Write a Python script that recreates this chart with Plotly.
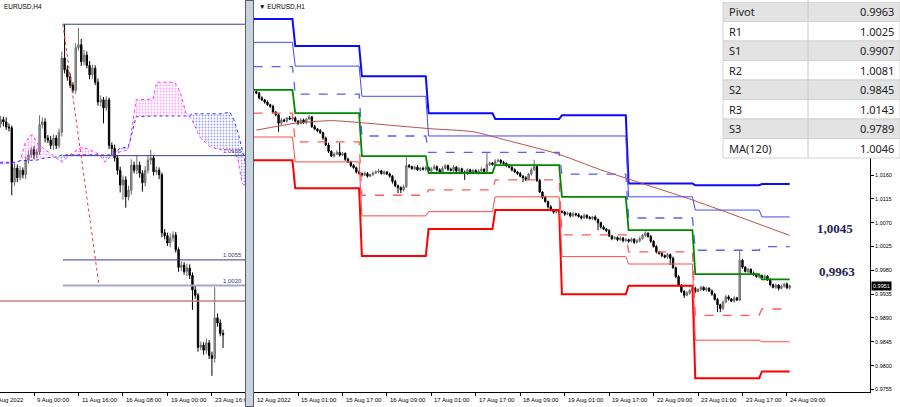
import plotly.graph_objects as go

W, H = 900, 407

# ---------------- H1 panel (right) data ----------------
h1_start_bar = -15
h1_first_open = 1.0318
h1_close = [
    1.0315, 1.0306, 1.0302, 1.0298, 1.0293, 1.0290, 1.0279, 1.0274, 1.0258, 1.0264,
    1.0262, 1.0268, 1.0266, 1.0268, 1.0262, 1.0258, 1.0264, 1.0260, 1.0266, 1.0270,
    1.0252, 1.0247, 1.0244, 1.0240, 1.0230, 1.0217, 1.0205, 1.0196, 1.0200, 1.0203,
    1.0198, 1.0201, 1.0190, 1.0185, 1.0178, 1.0174, 1.0166, 1.0163, 1.0160, 1.0163,
    1.0158, 1.0161, 1.0164, 1.0166, 1.0168, 1.0163, 1.0166, 1.0162, 1.0158, 1.0148,
    1.0140, 1.0136, 1.0132, 1.0138, 1.0178, 1.0176, 1.0172, 1.0175, 1.0170, 1.0173,
    1.0171, 1.0174, 1.0168, 1.0172, 1.0176, 1.0170, 1.0166, 1.0173, 1.0178, 1.0171,
    1.0169, 1.0175, 1.0168, 1.0172, 1.0165, 1.0163, 1.0170, 1.0166, 1.0169, 1.0164,
    1.0168, 1.0171, 1.0167, 1.0180, 1.0183, 1.0180, 1.0186, 1.0188, 1.0184, 1.0182,
    1.0178, 1.0175, 1.0170, 1.0166, 1.0163, 1.0158, 1.0155, 1.0152, 1.0162, 1.0170,
    1.0176, 1.0150, 1.0128, 1.0118, 1.0110, 1.0100, 1.0094, 1.0090, 1.0093, 1.0091,
    1.0090, 1.0086, 1.0088, 1.0083, 1.0087, 1.0085, 1.0082, 1.0079, 1.0084, 1.0080,
    1.0078, 1.0081, 1.0076, 1.0070, 1.0062, 1.0058, 1.0055, 1.0045, 1.0040, 1.0042,
    1.0038, 1.0041, 1.0036, 1.0038, 1.0035, 1.0039, 1.0033, 1.0036, 1.0040, 1.0046,
    1.0050, 1.0044, 1.0035, 1.0025, 1.0015, 1.0012, 1.0008, 1.0005, 1.0010, 1.0003,
    0.9985, 0.9968, 0.9952, 0.9940, 0.9933, 0.9937, 0.9942, 0.9946, 0.9940, 0.9944,
    0.9948, 0.9943, 0.9946, 0.9941, 0.9935, 0.9925, 0.9915, 0.9908, 0.9920, 0.9930,
    0.9926, 0.9922, 0.9928, 0.9924, 0.9999, 0.9986, 0.9978, 0.9982, 0.9975, 0.9972,
    0.9968, 0.9970, 0.9966, 0.9969, 0.9962, 0.9953, 0.9948, 0.9952, 0.9946, 0.9950,
    0.9954, 0.9947, 0.9951,
]
h1_upper_pips = [
    3, 2, 3, 2, 3, 2, 3, 2, 3, 4,
    3, 2, 4, 3, 3, 2, 4, 3, 2, 4,
    2, 3, 2, 3, 2, 3, 4, 2, 3, 4,
    18, 3, 2, 3, 2, 3, 2, 3, 2, 4,
    3, 2, 3, 3, 4, 2, 3, 2, 3, 2,
    3, 2, 3, 4, 16, 3, 2, 3, 4, 2,
    3, 4, 2, 3, 4, 2, 3, 4, 3, 2,
    3, 4, 2, 3, 2, 4, 3, 2, 3, 2,
    3, 4, 2, 24, 3, 2, 4, 3, 2, 3,
    2, 3, 2, 3, 2, 3, 2, 3, 2, 4,
    13, 2, 3, 2, 3, 2, 3, 2, 3, 2,
    3, 2, 3, 2, 4, 2, 3, 2, 3, 2,
    3, 2, 3, 2, 2, 3, 2, 3, 2, 3,
    2, 3, 2, 3, 2, 3, 2, 3, 4, 3,
    4, 2, 3, 2, 3, 2, 3, 2, 3, 2,
    3, 2, 3, 2, 3, 4, 3, 2, 3, 2,
    3, 2, 3, 2, 3, 2, 3, 2, 3, 4,
    3, 2, 3, 2, 19, 3, 2, 3, 2, 3,
    2, 3, 2, 3, 2, 3, 2, 3, 2, 3,
    2, 3, 2,
]
h1_lower_pips = [
    2, 3, 2, 3, 2, 3, 2, 3, 16, 3,
    2, 3, 2, 3, 2, 3, 2, 3, 4, 2,
    3, 2, 3, 2, 3, 2, 3, 2, 3, 2,
    3, 2, 3, 2, 3, 2, 3, 2, 3, 2,
    3, 2, 3, 2, 3, 2, 3, 2, 3, 4,
    3, 10, 6, 3, 2, 3, 2, 3, 2, 3,
    2, 3, 2, 3, 2, 3, 2, 3, 2, 3,
    2, 3, 2, 3, 2, 12, 3, 2, 3, 2,
    3, 2, 3, 2, 3, 2, 3, 2, 3, 2,
    3, 2, 3, 2, 3, 2, 8, 3, 2, 3,
    2, 3, 2, 3, 2, 3, 2, 3, 2, 3,
    2, 3, 2, 3, 2, 3, 2, 3, 2, 3,
    2, 3, 2, 14, 3, 2, 3, 2, 3, 2,
    3, 2, 3, 2, 3, 2, 3, 2, 3, 2,
    3, 2, 3, 2, 3, 2, 3, 2, 3, 13,
    2, 3, 2, 3, 5, 2, 3, 2, 3, 2,
    3, 2, 3, 2, 3, 2, 14, 7, 3, 2,
    3, 2, 3, 2, 2, 3, 2, 3, 2, 3,
    2, 3, 2, 3, 2, 3, 2, 3, 4, 2,
    3, 2, 3,
]

# daily pivot levels (one value per day)
pivot_days = ["12 Aug", "15 Aug", "16 Aug", "17 Aug", "18 Aug", "19 Aug", "22 Aug", "23 Aug", "24 Aug"]
pivot_day_first_bar = [-16, -1, 23, 47, 71, 95, 119, 143, 167]
pivot_last_bar = 177
level_R3 = [1.0455, 1.0404, 1.0347, 1.0277, 1.0266, 1.0273, 1.0144, 1.0141, 1.0143]
level_R2 = [1.0411, 1.0366, 1.0309, 1.0234, 1.0234, 1.0234, 1.0119, 1.0094, 1.0081]
level_R1 = [1.0365, 1.0313, 1.0234, 1.0203, 1.0203, 1.0162, 1.0079, 1.0018, 1.0025]
level_P = [1.0321, 1.0277, 1.0196, 1.0164, 1.0179, 1.0119, 1.0056, 0.9973, 0.9963]
level_S1 = [1.0277, 1.0223, 1.0122, 1.0132, 1.0151, 1.0047, 1.0015, 0.9895, 0.9907]
level_S2 = [1.0232, 1.0185, 1.0083, 1.0091, 1.0119, 1.0006, 0.9992, 0.9848, 0.9845]
level_S3 = [1.0188, 1.0135, 1.0007, 1.0058, 1.0094, 0.9935, 0.9951, 0.9776, 0.9789]

ma120_bar = [-15, -1, 12, 23, 47, 63, 75, 93, 109, 142, 177]
ma120_val = [1.0245, 1.0258, 1.0263, 1.0259, 1.0248, 1.0242, 1.0226, 1.0201, 1.0170, 1.0113, 1.0046]

h1_tick_bars = [0, 16, 32, 48, 64, 80, 96, 112, 128, 144, 160, 176]
h1_tick_text = ["15 Aug 01:00", "15 Aug 17:00", "16 Aug 09:00", "17 Aug 01:00", "17 Aug 17:00",
                "18 Aug 09:00", "19 Aug 01:00", "19 Aug 17:00", "22 Aug 09:00", "23 Aug 01:00",
                "23 Aug 17:00", "24 Aug 09:00"]
h1_first_label = "12 Aug 2022"
price_tick_vals = [0.9755, 0.9800, 0.9845, 0.9890, 0.9935, 0.9980, 1.0025, 1.0070, 1.0115, 1.0160]
current_price = 0.9951
note_ma_text, note_ma_value = "1,0045", 1.0045
note_pivot_text, note_pivot_value = "0,9963", 0.9963

table_labels = ["Pivot", "R1", "S1", "R2", "S2", "R3", "S3", "MA(120)"]
table_values = ["0.9963", "1.0025", "0.9907", "1.0081", "0.9845", "1.0143", "0.9789", "1.0046"]

# ---------------- H4 panel (left) data ----------------
h4_start_bar = -12
h4_first_open = 1.0240
h4_close = [
    1.0246, 1.0243, 1.0236, 1.0235, 1.0161, 1.0180, 1.0167, 1.0177, 1.0171, 1.0191,
    1.0198, 1.0205, 1.0198, 1.0202, 1.0239, 1.0243, 1.0221, 1.0218, 1.0211, 1.0221,
    1.0211, 1.0229, 1.0330, 1.0314, 1.0304, 1.0293, 1.0286, 1.0344, 1.0348, 1.0325,
    1.0334, 1.0320, 1.0307, 1.0316, 1.0297, 1.0270, 1.0273, 1.0262, 1.0273, 1.0211,
    1.0207, 1.0194, 1.0177, 1.0157, 1.0164, 1.0141, 1.0150, 1.0184, 1.0177, 1.0184,
    1.0173, 1.0160, 1.0177, 1.0191, 1.0194, 1.0175, 1.0177, 1.0171, 1.0092, 1.0088,
    1.0078, 1.0085, 1.0089, 1.0069, 1.0045, 1.0048, 1.0039, 1.0044, 1.0034, 1.0014,
    1.0007, 0.9936, 0.9939, 0.9932, 0.9942, 0.9925, 0.9921, 0.9976, 0.9969, 0.9955,
    0.9953,
]
h4_upper_pips = [
    5, 4, 6, 5, 3, 6, 5, 6, 4, 5,
    6, 4, 5, 4, 13, 6, 5, 4, 6, 5,
    4, 5, 9, 46, 6, 5, 4, 6, 23, 8,
    7, 5, 6, 5, 4, 5, 6, 4, 5, 3,
    4, 5, 4, 5, 6, 5, 6, 8, 5, 14,
    5, 4, 6, 7, 11, 4, 5, 4, 3, 5,
    4, 6, 5, 4, 3, 5, 4, 6, 5, 4,
    6, 3, 5, 4, 6, 4, 5, 42, 6, 5,
    5,
]
h4_lower_pips = [
    5, 6, 4, 5, 18, 5, 6, 4, 5, 6,
    5, 4, 6, 5, 4, 5, 6, 4, 5, 6,
    5, 4, 6, 5, 5, 4, 4, 5, 4, 6,
    5, 4, 6, 5, 4, 5, 6, 21, 4, 5,
    9, 5, 6, 10, 20, 15, 5, 6, 4, 5,
    6, 12, 5, 4, 6, 5, 4, 6, 6, 5,
    4, 6, 5, 4, 6, 5, 4, 6, 5, 27,
    5, 6, 4, 6, 5, 5, 24, 6, 5, 4,
    18,
]

# Ichimoku cloud spans (bar index, span A, span B)
cloud_bar = [-12.2, -6.8, -5.0, -3.2, -1.4, -0.4, 1.1, 4.0, 7.6, 10.1, 12.9, 15.5, 17.3, 20.1,
             23.7, 25.5, 28.1, 30.9, 33.8, 34.5, 36.7, 42.8, 44.2, 50.7, 52.5, 54.7, 55.8,
             56.8, 59.7, 63.3, 66.9, 70.5, 71.9, 73.4, 74.8, 76.3]
span_A = [1.0186, 1.0187, 1.0190, 1.0214, 1.0225, 1.0225, 1.0214, 1.0205, 1.0195, 1.0188,
          1.0198, 1.0205, 1.0209, 1.0205, 1.0198, 1.0188, 1.0198, 1.0202, 1.0205, 1.0216,
          1.0273, 1.0274, 1.0297, 1.0297, 1.0284, 1.0255, 1.0251, 1.0246, 1.0222, 1.0209,
          1.0205, 1.0205, 1.0202, 1.0191, 1.0160, 1.0154]
span_B = [1.0188, 1.0188, 1.0190, 1.0190, 1.0190, 1.0191, 1.0191, 1.0194, 1.0195, 1.0198,
          1.0198, 1.0198, 1.0198, 1.0198, 1.0198, 1.0197, 1.0198, 1.0207, 1.0209, 1.0216,
          1.0250, 1.0251, 1.0251, 1.0252, 1.0252, 1.0252, 1.0251, 1.0254, 1.0254, 1.0254,
          1.0254, 1.0256, 1.0246, 1.0228, 1.0205, 1.0184]

h4_swing_bar, h4_swing_high = 10.4, 1.0376
h4_fib_end_bar, h4_fib_end = 23.4, 1.0020
h4_levels = [1.0197, 1.0055, 1.0020]
h4_level_text = ["1.0155", "1.0055", "1.0020"]
h4_ma_level = 0.9999
h4_tick_bars = [0, 16, 32, 48, 64]
h4_tick_text = ["9 Aug 00:00", "11 Aug 16:00", "16 Aug 08:00", "19 Aug 00:00", "23 Aug 16:00"]
h4_first_label = "4 Aug 2022"

# ---------------- geometry ----------------
PLOT_BOTTOM = 392
LEFT_X0, LEFT_X1 = 0, 245
RIGHT_X0, RIGHT_X1 = 254, 870
L_RANGE = [-12.23, 75.9]
R_RANGE = [-15.84, 205.9]
L_YRANGE = [0.98751, 1.0409]
R_YRANGE = [0.97501, 1.0491]


def px_x(p):
    return p / W


def px_y(p):
    return (H - p) / H


def build_ohlc(first_open, closes, up, lo, start):
    n = min(len(closes), len(up), len(lo))
    xs, o, hh, ll, c = [], [], [], [], []
    prev = first_open
    for k in range(n):
        op, cl = prev, closes[k]
        xs.append(start + k)
        o.append(op)
        c.append(cl)
        hh.append(round(max(op, cl) + up[k] * 1e-4, 5))
        ll.append(round(min(op, cl) - lo[k] * 1e-4, 5))
        prev = cl
    return xs, o, hh, ll, c


BULL_FILL, BULL_LINE = "#a9a9a9", "#6a6a6a"
BEAR = "#000000"
FONT = "Liberation Sans"

fig = go.Figure()

# ---- left panel: ichimoku cloud ----
def sgn(k):
    d = span_A[k] - span_B[k]
    if abs(d) < 1e-9:
        return 0
    return 1 if d > 0 else -1

segs = []
start = 0
cur = sgn(0)
for k in range(1, len(cloud_bar)):
    s = sgn(k)
    if s == 0:
        segs.append((cur, start, k))
        start, cur = k, 0
    elif cur == 0:
        cur = s
    elif s != cur:
        segs.append((cur, start, k - 1))
        start, cur = k - 1, s
segs.append((cur, start, len(cloud_bar) - 1))

for sign, a, b in segs:
    if sign == 0 or b <= a:
        continue
    col = "#ff40ff" if sign > 0 else "#4040ff"
    xs = cloud_bar[a:b + 1] + cloud_bar[a:b + 1][::-1]
    ys = span_A[a:b + 1] + span_B[a:b + 1][::-1]
    fig.add_trace(go.Scatter(
        x=xs, y=ys, xaxis="x", yaxis="y", mode="lines", line=dict(width=0),
        fill="toself", fillcolor="rgba(255,255,255,0)",
        fillpattern=dict(shape=".", fgcolor=col, bgcolor="rgba(255,255,255,0)", size=3, solidity=0.3),
        hoverinfo="skip"))

fig.add_trace(go.Scatter(x=cloud_bar, y=span_A, xaxis="x", yaxis="y", mode="lines",
                         line=dict(color="#ff33ff", width=1, dash="dot"), hoverinfo="skip"))
fig.add_trace(go.Scatter(x=cloud_bar, y=span_B, xaxis="x", yaxis="y", mode="lines",
                         line=dict(color="#3333ff", width=1, dash="dot"), hoverinfo="skip"))

# left panel horizontal levels
fig.add_trace(go.Scatter(x=[L_RANGE[0], L_RANGE[1]], y=[h4_ma_level, h4_ma_level], xaxis="x", yaxis="y",
                         mode="lines", line=dict(color="#c47c78", width=1.5), hoverinfo="skip"))
fig.add_trace(go.Scatter(x=[h4_swing_bar, L_RANGE[1]], y=[h4_swing_high, h4_swing_high], xaxis="x", yaxis="y",
                         mode="lines", line=dict(color="#3b3b8c", width=1), hoverinfo="skip"))
lvl_styles = [("#3b3b8c", 1), ("#3b3b8c", 1), ("#a6a6d6", 2)]
for v, (col, w) in zip(h4_levels, lvl_styles):
    fig.add_trace(go.Scatter(x=[h4_swing_bar, L_RANGE[1]], y=[v, v], xaxis="x", yaxis="y",
                             mode="lines", line=dict(color=col, width=w), hoverinfo="skip"))
fig.add_trace(go.Scatter(x=[h4_swing_bar, h4_fib_end_bar], y=[h4_swing_high, h4_fib_end], xaxis="x", yaxis="y",
                         mode="lines", line=dict(color="#ff3030", width=1, dash="dot"), hoverinfo="skip"))

# left candles
xs4, o4, h4, l4, c4 = build_ohlc(h4_first_open, h4_close, h4_upper_pips, h4_lower_pips, h4_start_bar)
fig.add_trace(go.Candlestick(
    x=xs4, open=o4, high=h4, low=l4, close=c4, xaxis="x", yaxis="y",
    increasing=dict(line=dict(color=BULL_LINE, width=1), fillcolor=BULL_FILL),
    decreasing=dict(line=dict(color=BEAR, width=1), fillcolor=BEAR),
    whiskerwidth=0, hoverinfo="skip"))

# ---- right panel: pivot lines ----
def day_line(vals):
    xs, ys = [], []
    n = len(pivot_day_first_bar)
    for k in range(min(n, len(vals))):
        s = pivot_day_first_bar[k]
        e = pivot_day_first_bar[k + 1] - 1 if k < n - 1 else pivot_last_bar
        xs += [s, e]
        ys += [vals[k], vals[k]]
    return xs, ys

pivot_styles = [
    (level_R3, "#0a0aff", 2, "solid"),
    (level_R2, "#4545ff", 1, "solid"),
    (level_R1, "#5c5cff", 1.3, "dash"),
    (level_S3, "#ff0000", 2, "solid"),
    (level_S2, "#ff4a4a", 1, "solid"),
    (level_S1, "#ff5a5a", 1.3, "dash"),
    (level_P, "#008a00", 1.8, "solid"),
]
for vals, col, w, dash in pivot_styles:
    xs, ys = day_line(vals)
    fig.add_trace(go.Scatter(x=xs, y=ys, xaxis="x2", yaxis="y2", mode="lines",
                             line=dict(color=col, width=w, dash=dash), hoverinfo="skip"))

fig.add_trace(go.Scatter(x=ma120_bar, y=ma120_val, xaxis="x2", yaxis="y2", mode="lines",
                         line=dict(color="#b8504c", width=1, shape="spline", smoothing=0.6), hoverinfo="skip"))

xs1, o1, h1, l1, c1 = build_ohlc(h1_first_open, h1_close, h1_upper_pips, h1_lower_pips, h1_start_bar)
fig.add_trace(go.Candlestick(
    x=xs1, open=o1, high=h1, low=l1, close=c1, xaxis="x2", yaxis="y2",
    increasing=dict(line=dict(color=BULL_LINE, width=1), fillcolor=BULL_FILL),
    decreasing=dict(line=dict(color=BEAR, width=1), fillcolor=BEAR),
    whiskerwidth=0, hoverinfo="skip"))

# ---------------- layout ----------------
ydom = [px_y(PLOT_BOTTOM), 1]
axis_common = dict(showgrid=False, zeroline=False, fixedrange=True)
fig.update_layout(
    width=W, height=H, margin=dict(l=0, r=0, t=0, b=0),
    paper_bgcolor="white", plot_bgcolor="white", showlegend=False,
    font=dict(family=FONT, size=6, color="#000000"),
    xaxis=dict(domain=[px_x(LEFT_X0), px_x(LEFT_X1)], range=L_RANGE, anchor="y",
               tickvals=h4_tick_bars, showticklabels=False, ticks="outside", ticklen=3,
               tickcolor="#000", showline=True, linecolor="#000", linewidth=1,
               rangeslider=dict(visible=False), **axis_common),
    yaxis=dict(domain=ydom, range=L_YRANGE, anchor="x", showticklabels=False, showline=False,
               ticks="", **axis_common),
    xaxis2=dict(domain=[px_x(RIGHT_X0), px_x(RIGHT_X1)], range=R_RANGE, anchor="y2",
                tickvals=h1_tick_bars, showticklabels=False, ticks="outside", ticklen=3,
                tickcolor="#000", showline=True, linecolor="#000", linewidth=1,
                rangeslider=dict(visible=False), **axis_common),
    yaxis2=dict(domain=ydom, range=R_YRANGE, anchor="x2", side="right",
                tickvals=price_tick_vals, ticktext=[f"{v:.4f}" for v in price_tick_vals],
                ticks="outside", ticklen=3, tickcolor="#000", showline=True, linecolor="#000",
                linewidth=1, tickfont=dict(size=5.5, family=FONT, color="#000"), **axis_common),
)

shapes = []
ann = []

# x tick labels as annotations (left aligned to the tick)
label_y = px_y(399.5)
ann.append(dict(x=h1_start_bar - 0.4, y=label_y, xref="x2", yref="paper", text=h1_first_label,
                showarrow=False, xanchor="left", yanchor="middle", font=dict(size=6, family=FONT)))
for b, t in zip(h1_tick_bars, h1_tick_text):
    ann.append(dict(x=b + 0.4, y=label_y, xref="x2", yref="paper", text=t, showarrow=False,
                    xanchor="left", yanchor="middle", font=dict(size=6, family=FONT)))
ann.append(dict(x=px_x(-9), y=label_y, xref="paper", yref="paper", text=h4_first_label, showarrow=False,
                xanchor="left", yanchor="middle", font=dict(size=6, family=FONT)))
for b, t in zip(h4_tick_bars, h4_tick_text):
    ann.append(dict(x=b + 0.4, y=label_y, xref="x", yref="paper", text=t, showarrow=False,
                    xanchor="left", yanchor="middle", font=dict(size=6, family=FONT)))

# level labels on left panel
for v, t in zip(h4_levels, h4_level_text):
    ann.append(dict(x=px_x(244), y=v, xref="paper", yref="y", text=t, showarrow=False,
                    xanchor="right", yanchor="bottom", font=dict(size=6, family=FONT, color="#3b3b7a")))

# panel titles
ann.append(dict(x=px_x(2), y=px_y(6), xref="paper", yref="paper", text="EURUSD,H4", showarrow=False,
                xanchor="left", yanchor="middle", font=dict(size=6.5, family=FONT)))
ann.append(dict(x=px_x(257), y=px_y(6), xref="paper", yref="paper", text="▼ EURUSD,H1", showarrow=False,
                xanchor="left", yanchor="middle", font=dict(size=6.5, family=FONT)))

# notes
ann.append(dict(x=px_x(835), y=note_ma_value + 0.0014, xref="paper", yref="y2", text=f"<b>{note_ma_text}</b>",
                showarrow=False, xanchor="center", yanchor="middle",
                font=dict(size=13, family="Liberation Serif", color="#1e1e52")))
ann.append(dict(x=px_x(837), y=note_pivot_value + 0.0014, xref="paper", yref="y2", text=f"<b>{note_pivot_text}</b>",
                showarrow=False, xanchor="center", yanchor="middle",
                font=dict(size=13, family="Liberation Serif", color="#1e1e52")))

# current price box
ann.append(dict(x=px_x(871), y=current_price, xref="paper", yref="y2", text=f"{current_price:.4f}",
                showarrow=False, xanchor="left", yanchor="middle", bgcolor="#000000", borderpad=1,
                font=dict(size=5.5, family=FONT, color="#ffffff")))

# table
T_X0, T_XMID, T_X1 = 723, 808, 900
T_Y0, ROW_H = 2, 19.5
for k, (lab, val) in enumerate(zip(table_labels, table_values)):
    y0 = T_Y0 + k * ROW_H
    y1 = y0 + ROW_H
    fill = "#e3e3e3" if k % 2 == 0 else "#ffffff"
    shapes.append(dict(type="rect", xref="paper", yref="paper", x0=px_x(T_X0), x1=px_x(T_X1),
                       y0=px_y(y1), y1=px_y(y0), fillcolor=fill, line=dict(color="#d2d2d2", width=1),
                       layer="above"))
    ann.append(dict(x=px_x(T_X0 + 4), y=px_y((y0 + y1) / 2), xref="paper", yref="paper", text=lab,
                    showarrow=False, xanchor="left", yanchor="middle",
                    font=dict(size=11, family="Noto Sans", color="#222222")))
    ann.append(dict(x=px_x(T_X1 - 4), y=px_y((y0 + y1) / 2), xref="paper", yref="paper", text=val,
                    showarrow=False, xanchor="right", yanchor="middle",
                    font=dict(size=11, family="Noto Sans", color="#222222")))
shapes.append(dict(type="rect", xref="paper", yref="paper", x0=px_x(T_X0), x1=px_x(T_X1),
                   y0=px_y(T_Y0), y1=1, fillcolor="#ffffff", line=dict(width=0), layer="above"))
shapes.append(dict(type="line", xref="paper", yref="paper", x0=px_x(T_XMID), x1=px_x(T_XMID),
                   y0=px_y(T_Y0 + ROW_H * len(table_labels)), y1=1, line=dict(color="#c8c8c8", width=1),
                   layer="above"))

# separator between the two chart windows (drawn last so it covers overflowing labels)
ann.append(dict(x=px_x(249.5), y=0.5, xref="paper", yref="paper", text=" ", showarrow=False,
                xanchor="center", yanchor="middle", width=7, height=H - 2, bgcolor="#c6d2df",
                bordercolor="#5e5e5e", borderwidth=1, borderpad=0))

fig.update_layout(shapes=shapes, annotations=ann)
fig.write_html("out.html", config={"displayModeBar": False},
               post_script="document.body.style.margin='0';document.body.style.overflow='hidden';")
